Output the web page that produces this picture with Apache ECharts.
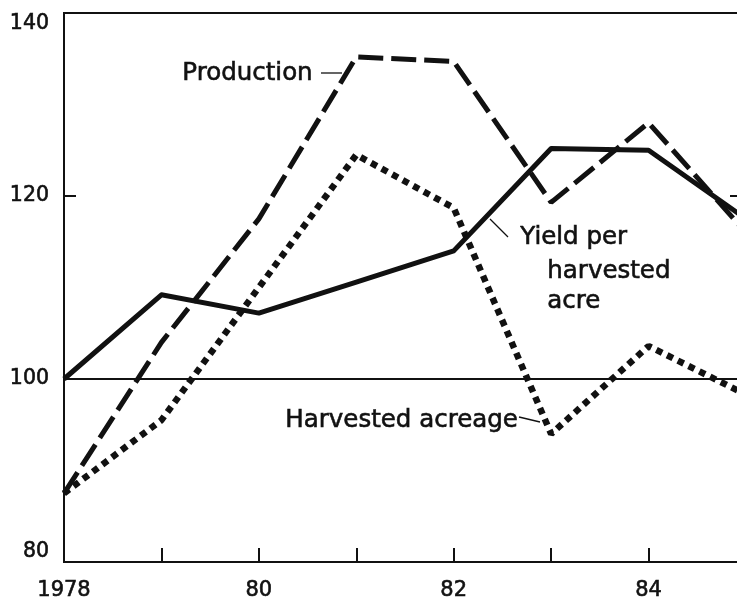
<!DOCTYPE html>
<html>
<head>
<meta charset="utf-8">
<script src="https://cdn.jsdelivr.net/npm/echarts@6.0.0/dist/echarts.min.js"></script>
<style>
    html, body { margin: 0; padding: 0; background: #fff; }
    #chart { width: 737px; height: 603px; }
</style>
</head>
<body>
<div id="chart"></div>
<script>
    // index values
    var years = [1978, 1979, 1980, 1981, 1982, 1983, 1984, 1985];
    var production = [87.5, 104, 117.5, 135.2, 134.7, 119.3, 128, 116];
    var yieldPerAcre = [100, 109.2, 107.2, 110.6, 114, 125.2, 125, 117.5];
    var harvestedAcreage = [87.5, 95.5, 110, 124.5, 118.7, 94, 103.6, 98.3];
    var yTicks = [80, 100, 120, 140];
    var baseLine = 100;

    var ink = '#111';
    var tickFont = '"DejaVu Sans", sans-serif';
    var noteFont = '24.5px "DejaVu Sans"';

    function pairs(vals) {
        return years.map(function (y, i) { return [y, vals[i]]; });
    }

    // small helper so the notes look a bit heavier, like the print
    function note(text, left, top) {
        return {
            type: 'text', left: left, top: top,
            style: { text: text, font: noteFont, fill: ink, stroke: ink, lineWidth: 0.6 }
        };
    }

    var chart = echarts.init(document.getElementById('chart'), null, { renderer: 'canvas' });

    chart.setOption({
        animation: false,
        backgroundColor: '#fff',
        grid: {
            left: 64, right: -9, top: 13, bottom: 41,
            outerBoundsMode: 'none',
            show: true, borderColor: ink, borderWidth: 2
        },
        xAxis: {
            type: 'value',
            min: years[0], max: years[years.length - 1], interval: 1,
            axisLine: { lineStyle: { color: ink, width: 2 } },
            axisTick: { inside: true, length: 14, lineStyle: { color: ink, width: 2 } },
            splitLine: { show: false },
            axisLabel: {
                margin: 18, color: ink, fontSize: 21, fontFamily: tickFont,
                textBorderColor: ink, textBorderWidth: 0.6,
                formatter: function (v) {
                    if (v % 2 !== 0) return '';
                    return v === years[0] ? String(v) : String(v).slice(2);
                }
            }
        },
        yAxis: [{
            type: 'value',
            min: yTicks[0], max: yTicks[yTicks.length - 1], interval: 20,
            axisLine: { show: true, lineStyle: { color: ink, width: 2 } },
            axisTick: { show: true, inside: true, length: 12, lineStyle: { color: ink, width: 2 } },
            splitLine: { show: false },
            axisLabel: {
                margin: 15, color: ink, fontSize: 20.5, fontFamily: tickFont,
                textBorderColor: ink, textBorderWidth: 0.6,
                verticalAlignMaxLabel: 'top', verticalAlignMinLabel: 'bottom'
            }
        }, {
            type: 'value', position: 'right',
            min: yTicks[0], max: yTicks[yTicks.length - 1], interval: 20,
            axisLine: { show: true, lineStyle: { color: ink, width: 2 } },
            axisTick: { show: true, inside: true, length: 16, lineStyle: { color: ink, width: 2 } },
            splitLine: { show: false },
            axisLabel: { show: false }
        }],
        series: [{
            name: 'Yield per harvested acre',
            type: 'line',
            data: pairs(yieldPerAcre),
            symbol: 'none',
            z: 4,
            lineStyle: { color: ink, width: 5, join: 'round' },
            markLine: {
                silent: true,
                symbol: ['none', 'none'],
                label: { show: false },
                lineStyle: { color: ink, width: 2, type: 'solid' },
                data: [{ yAxis: baseLine }],
                z: 1
            }
        }, {
            name: 'Production',
            type: 'line',
            data: pairs(production),
            symbol: 'none',
            z: 3,
            lineStyle: { color: ink, width: 5, type: [25, 8], cap: 'butt' }
        }, {
            name: 'Harvested acreage',
            type: 'line',
            data: pairs(harvestedAcreage),
            symbol: 'none',
            z: 3,
            lineStyle: { color: ink, width: 6.5, type: [6.5, 5.5], cap: 'butt' }
        }],
        graphic: [
            note('Production', 182, 61),
            { type: 'line', shape: { x1: 321, y1: 73, x2: 342, y2: 73 }, style: { stroke: ink, lineWidth: 1.3 } },
            note('Yield per', 520, 225),
            note('harvested', 547, 259),
            note('acre', 547, 289),
            { type: 'line', shape: { x1: 490, y1: 219, x2: 508, y2: 237 }, style: { stroke: ink, lineWidth: 1.3 } },
            note('Harvested acreage', 285, 408),
            { type: 'line', shape: { x1: 519, y1: 417, x2: 540, y2: 422 }, style: { stroke: ink, lineWidth: 1.3 } }
        ]
    });
</script>
</body>
</html>
